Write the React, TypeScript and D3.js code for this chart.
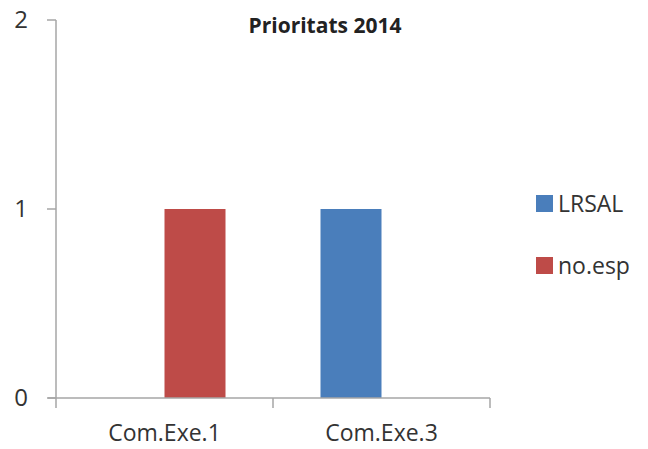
import React from "react";
import * as d3 from "d3";

const categories = ["Com.Exe.1", "Com.Exe.3"];
const seriesNames = ["LRSAL", "no.esp"];
const lrsalValues = [0, 1];
const noespValues = [1, 0];
const yTicks = [0, 1, 2];
const colors = ["#4a7ebb", "#be4b48"];
const title = "Prioritats 2014";

export default function App() {
  const W = 648, H = 449;
  const left = 56, right = 490, top = 20, bottom = 398;
  const x = d3.scaleBand<string>().domain(categories).range([left, right]).paddingInner(0).paddingOuter(0);
  const inner = d3.scaleBand<string>().domain(seriesNames).range([0, 122]);
  const y = d3.scaleLinear().domain([0, 2]).range([bottom, top]);
  const series = [lrsalValues, noespValues];
  const font = "'Open Sans', 'Noto Sans', sans-serif";
  const axisColor = "#a6a6a6";
  const tickX = [left, ...categories.map((c) => (x(c) as number) + x.bandwidth())];

  return (
    <svg width={W} height={H} style={{ position: "absolute", left: 0, top: 0, background: "#fff" }} fontFamily={font}>
      <text x={325} y={33} textAnchor="middle" fontWeight="bold" fontSize={21} fill="#222">{title}</text>
      {/* y axis */}
      <line x1={left} x2={left} y1={top} y2={bottom} stroke={axisColor} strokeWidth={1.5} />
      {yTicks.map((t) => (
        <g key={t}>
          <line x1={left - 9} x2={left} y1={y(t)} y2={y(t)} stroke={axisColor} strokeWidth={1.5} />
          <text x={21} y={y(t)} dy="0.35em" textAnchor="middle" fontSize={24} fill="#333">{t}</text>
        </g>
      ))}
      {/* bars */}
      {series.map((vals, si) =>
        categories.map((c, ci) => {
          const v = vals[ci];
          if (!v) return null;
          const cx = (x(c) as number) + x.bandwidth() / 2 - 61;
          const bx = cx + (inner(seriesNames[si]) as number);
          return (
            <rect key={si + "-" + ci} x={bx} y={y(v)} width={inner.bandwidth()} height={y(0) - y(v)} fill={colors[si]} />
          );
        })
      )}
      {/* x axis */}
      <line x1={left - 8} x2={right} y1={bottom} y2={bottom} stroke={axisColor} strokeWidth={1.5} />
      {tickX.map((tx, i) => (
        <line key={i} x1={tx} x2={tx} y1={bottom} y2={bottom + 10} stroke={axisColor} strokeWidth={1.5} />
      ))}
      {categories.map((c) => (
        <text key={c} x={(x(c) as number) + x.bandwidth() / 2} y={441} textAnchor="middle" fontSize={23} fill="#333">{c}</text>
      ))}
      {/* legend */}
      {seriesNames.map((s, i) => (
        <g key={s} transform={`translate(536, ${195 + i * 62})`}>
          <rect x={0} y={0} width={17} height={17} fill={colors[i]} />
          <text x={22} y={17} fontSize={23} fill="#333">{s}</text>
        </g>
      ))}
    </svg>
  );
}
